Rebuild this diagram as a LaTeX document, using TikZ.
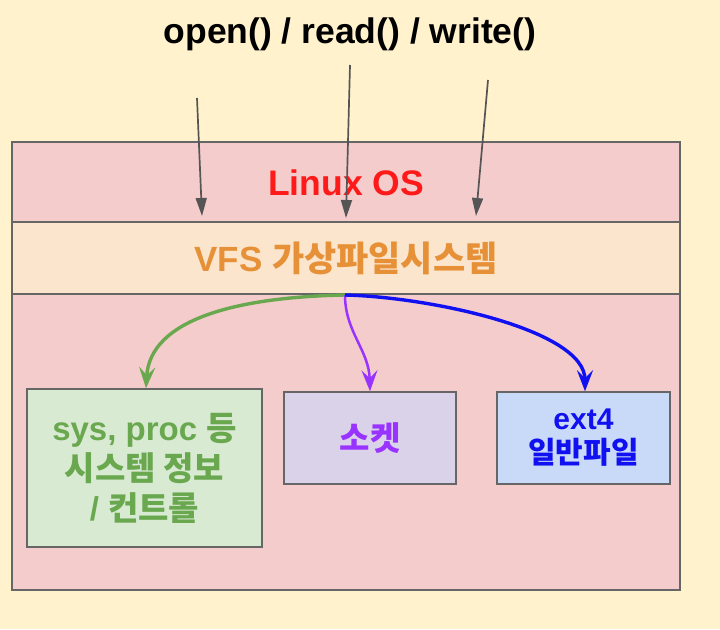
\documentclass[tikz,border=0pt]{standalone}
\usepackage{fontspec}
\setmainfont{Liberation Sans}
\newfontfamily\kr{Noto Sans CJK KR}
\usetikzlibrary{arrows.meta}
\definecolor{bgc}{HTML}{FFF2CC}
\definecolor{osfill}{HTML}{F4CCCC}
\definecolor{vfsfill}{HTML}{FCE5CD}
\definecolor{edge}{HTML}{666666}
\definecolor{osred}{HTML}{FF1A1A}
\definecolor{vfsorange}{HTML}{E69138}
\definecolor{gfill}{HTML}{D9EAD3}
\definecolor{gtext}{HTML}{6AA84F}
\definecolor{pfill}{HTML}{D9D2E9}
\definecolor{ptext}{HTML}{9933FF}
\definecolor{bfill}{HTML}{C9DAF8}
\definecolor{btext}{HTML}{1010F0}
\definecolor{callc}{HTML}{555555}
\tikzset{
  panel/.style={draw=edge, line width=1.5pt, inner sep=0pt},
  boxtext/.style={font=\bfseries, align=center},
  call/.style={draw=callc, line width=1.7pt, -{Triangle[length=18pt,width=11pt]}},
  fork/.style={-{Stealth[length=21pt,width=16pt,inset=8pt]}}
}
\begin{document}
\begin{tikzpicture}[x=1pt,y=-1pt]
\fill[bgc] (0,0) rectangle (720,629);
\useasboundingbox (0,0) rectangle (720,629);

\node[panel, fill=osfill, minimum width=668pt, minimum height=448pt] (os) at (346,366) {};
\node[panel, fill=vfsfill, minimum width=668pt, minimum height=72pt] (vfs) at (346,258)
  {\color{vfsorange}\bfseries\fontsize{35}{40}\selectfont VFS {\kr 가상파일시스템}};
\node[text=osred, font=\bfseries\fontsize{35.5}{40}\selectfont] (oslabel) at (346,183) {Linux OS};

\node[font=\bfseries\fontsize{35.5}{42}\selectfont] (api) at (350,34) {open() / read() / write()};

\node[panel, fill=gfill, minimum width=235pt, minimum height=158pt, boxtext, text=gtext,
  font=\bfseries\fontsize{33}{40}\selectfont] (sys) at (144.5,468)
  {sys, proc {\kr 등}\\{\kr 시스템 정보}\\/ {\kr 컨트롤}};
\node[panel, fill=pfill, minimum width=172pt, minimum height=92pt, boxtext, text=ptext,
  font=\bfseries\fontsize{33}{40}\selectfont] (sock) at (370,438)
  {\kr 소켓};
\node[panel, fill=bfill, minimum width=173pt, minimum height=92pt, boxtext, text=btext,
  font=\bfseries\fontsize{30}{34}\selectfont] (ext) at (583.5,438)
  {ext4\\{\kr 일반파일}};

\coordinate (a1) at (197,98);
\coordinate (a2) at (350,65);
\coordinate (a3) at (488,80);
\coordinate (b1) at (202,216);
\coordinate (b2) at (346,218);
\coordinate (b3) at (476,216);
\draw[call] (a1) -- (b1);
\draw[call] (a2) -- (b2);
\draw[call] (a3) -- (b3);

\coordinate (src) at (345,295);
\draw[fork, draw=gtext, line width=3.4pt] (src) .. controls (240,297) and (150,318) .. (sys.north -| 146,0);
\draw[fork, draw=ptext, line width=2.5pt] (src) .. controls (345,332) and (369,350) .. (sock.north);
\draw[fork, draw=btext, line width=3.4pt] (src) .. controls (430,297) and (585,330) .. (ext.north -| 585,0);
\end{tikzpicture}
\end{document}
